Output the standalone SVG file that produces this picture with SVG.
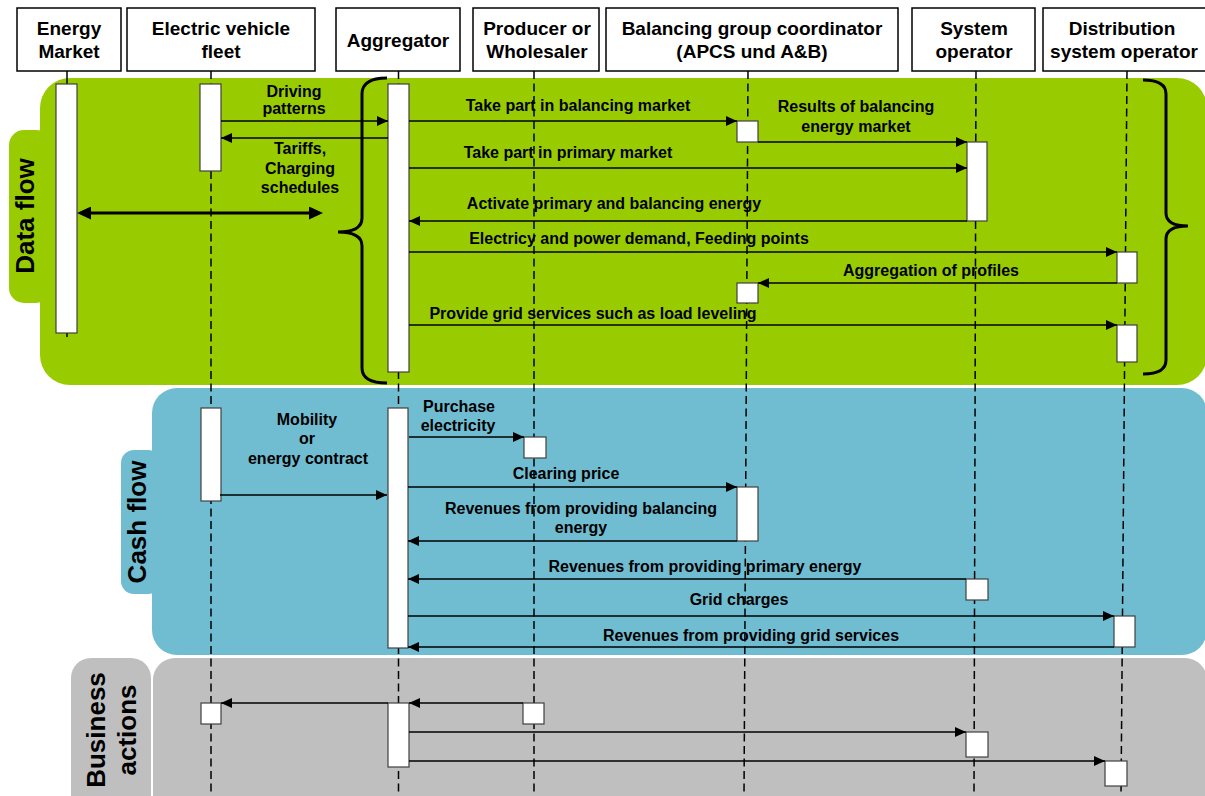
<svg xmlns="http://www.w3.org/2000/svg" width="1205" height="796" viewBox="0 0 1205 796">
<defs>
<marker id="ah" markerUnits="userSpaceOnUse" markerWidth="11" markerHeight="10" refX="11" refY="5" orient="auto"><path d="M0,0 L11,5 L0,10 Z" fill="#000"/></marker>
<marker id="ahb" markerUnits="userSpaceOnUse" markerWidth="14" markerHeight="13" refX="3" refY="6.5" orient="auto-start-reverse"><path d="M0,0 L14,6.5 L0,13 Z" fill="#000"/></marker>
</defs>
<style>
.hdr{fill:#fff;stroke:#000;stroke-width:1.5}
.ht{font-family:"Liberation Sans",Arial,sans-serif;font-weight:bold;font-size:19px;text-anchor:middle;fill:#000}
.lbl{font-family:"Liberation Sans",Arial,sans-serif;font-weight:bold;font-size:16px;text-anchor:middle;fill:#000}
.ttl{font-family:"Liberation Sans",Arial,sans-serif;font-weight:bold;font-size:26px;text-anchor:middle;fill:#000}
.life{stroke:#000;stroke-width:1.5;stroke-dasharray:8 4.5;fill:none}
.act{fill:#fff;stroke:#404040;stroke-width:1.2}
.msg{stroke:#000;stroke-width:1.5;fill:none;marker-end:url(#ah)}
.brace{stroke:#000;stroke-width:3;fill:none}
.g{fill:#99CC00}.b{fill:#70BDD2}.y{fill:#BFBFBF}
</style>
<rect width="1205" height="796" fill="#fff"/>
<g id="regions">
<rect class="g" x="40" y="78" width="1167" height="307" rx="30"/>
<rect class="g" x="9" y="130" width="42" height="173" rx="15"/>
<text class="ttl" transform="translate(34,216) rotate(-90)">Data flow</text>
<rect class="b" x="152" y="388" width="1055" height="267" rx="25"/>
<rect class="b" x="121" y="450" width="40" height="144" rx="13"/>
<text class="ttl" transform="translate(146,522) rotate(-90)">Cash flow</text>
<rect class="y" x="153" y="658" width="1054" height="160" rx="22"/>
<rect class="y" x="71" y="658" width="80" height="160" rx="20"/>
<text class="ttl" transform="translate(105,730) rotate(-90)">Business</text>
<text class="ttl" transform="translate(136,730) rotate(-90)">actions</text>
</g>
<g id="braces">
<path class="brace" d="M387,78 Q362,78 362,94 L362,218 Q362,232 338,232 Q362,232 362,246 L362,368 Q362,383 387,383"/>
<path class="brace" d="M1143,80 Q1166,80 1166,94 L1166,213 Q1166,226 1188,226 Q1166,226 1166,239 L1166,360 Q1166,374 1143,374"/>
</g>
<g id="energy-market">
<line class="life" x1="67" y1="71" x2="67" y2="337" style="stroke-dasharray:none"/>
<rect class="hdr" x="17" y="8" width="104" height="63"/>
<text class="ht" x="69" y="35">Energy</text>
<text class="ht" x="69" y="58">Market</text>
<rect class="act" x="56" y="84" width="21" height="249"/>
</g>
<g id="ev-fleet">
<line class="life" x1="211" y1="71" x2="211" y2="796"/>
<rect class="hdr" x="127" y="8" width="188" height="63"/>
<text class="ht" x="221" y="35">Electric vehicle</text>
<text class="ht" x="221" y="58">fleet</text>
<rect class="act" x="200" y="84" width="21" height="87"/>
<rect class="act" x="201" y="408" width="20" height="93"/>
<rect class="act" x="201" y="703" width="20" height="21"/>
</g>
<g id="aggregator">
<line class="life" x1="398.5" y1="71" x2="398.5" y2="796"/>
<rect class="hdr" x="336" y="8" width="124" height="63"/>
<text class="ht" x="398" y="46.5">Aggregator</text>
<rect class="act" x="388" y="84" width="21" height="288"/>
<rect class="act" x="388" y="408" width="20" height="240"/>
<rect class="act" x="388" y="703" width="21" height="64"/>
</g>
<g id="producer">
<line class="life" x1="534" y1="71" x2="534" y2="796"/>
<rect class="hdr" x="473" y="8" width="126" height="63"/>
<text class="ht" x="537" y="35">Producer or</text>
<text class="ht" x="537" y="58">Wholesaler</text>
<rect class="act" x="524" y="437" width="22" height="21"/>
<rect class="act" x="523" y="703" width="21" height="21"/>
</g>
<g id="balancing-coordinator">
<line class="life" x1="748" y1="71" x2="744" y2="796"/>
<rect class="hdr" x="606" y="8" width="292" height="63"/>
<text class="ht" x="752" y="35">Balancing group coordinator</text>
<text class="ht" x="752" y="58">(APCS und A&amp;B)</text>
<rect class="act" x="737" y="121" width="21" height="21"/>
<rect class="act" x="737" y="283" width="21" height="20"/>
<rect class="act" x="737" y="487" width="21" height="54"/>
</g>
<g id="system-operator">
<line class="life" x1="976" y1="71" x2="974" y2="796"/>
<rect class="hdr" x="912" y="8" width="123" height="63"/>
<text class="ht" x="974" y="35">System</text>
<text class="ht" x="974" y="58">operator</text>
<rect class="act" x="967" y="142" width="20" height="79"/>
<rect class="act" x="966" y="579" width="22" height="21"/>
<rect class="act" x="966" y="732" width="22" height="25"/>
</g>
<g id="dso">
<line class="life" x1="1127" y1="71" x2="1121" y2="796"/>
<rect class="hdr" x="1043" y="8" width="170" height="63"/>
<text class="ht" x="1122" y="35">Distribution</text>
<text class="ht" x="1124" y="58">system operator</text>
<rect class="act" x="1117" y="252" width="20" height="31"/>
<rect class="act" x="1117" y="325" width="20" height="37"/>
<rect class="act" x="1114" y="616" width="21" height="31"/>
<rect class="act" x="1105" y="761" width="22" height="25"/>
</g>
<g id="connectors">
<line class="msg" x1="221" y1="121" x2="388" y2="121"/>
<line class="msg" x1="388" y1="138" x2="221" y2="138"/>
<line x1="88" y1="213" x2="312" y2="213" stroke="#000" stroke-width="3" marker-start="url(#ahb)" marker-end="url(#ahb)"/>
<line class="msg" x1="409" y1="121" x2="737" y2="121"/>
<line class="msg" x1="758" y1="142" x2="967" y2="142"/>
<line class="msg" x1="409" y1="168" x2="967" y2="168"/>
<line class="msg" x1="967" y1="221" x2="409" y2="221"/>
<line class="msg" x1="409" y1="252" x2="1117" y2="252"/>
<line class="msg" x1="1117" y1="283" x2="758" y2="283"/>
<line class="msg" x1="409" y1="325" x2="1117" y2="325"/>
<line class="msg" x1="220" y1="495" x2="387" y2="495"/>
<line class="msg" x1="409" y1="437" x2="524" y2="437"/>
<line class="msg" x1="408" y1="487" x2="737" y2="487"/>
<line class="msg" x1="737" y1="541" x2="408" y2="541"/>
<line class="msg" x1="966" y1="579" x2="408" y2="579"/>
<line class="msg" x1="408" y1="616" x2="1114" y2="616"/>
<line class="msg" x1="1114" y1="647" x2="408" y2="647"/>
<line class="msg" x1="523" y1="703" x2="409" y2="703"/>
<line class="msg" x1="388" y1="703" x2="221" y2="703"/>
<line class="msg" x1="409" y1="732" x2="966" y2="732"/>
<line class="msg" x1="409" y1="761" x2="1105" y2="761"/>
</g>
<g id="labels">
<text class="lbl" x="294" y="97">Driving</text>
<text class="lbl" x="294" y="114">patterns</text>
<text class="lbl" x="300" y="154">Tariffs,</text>
<text class="lbl" x="300" y="174">Charging</text>
<text class="lbl" x="300" y="193">schedules</text>
<text class="lbl" x="578" y="111">Take part in balancing market</text>
<text class="lbl" x="856" y="112">Results of balancing</text>
<text class="lbl" x="856" y="132">energy market</text>
<text class="lbl" x="568" y="158">Take part in primary market</text>
<text class="lbl" x="614" y="208.5">Activate primary and balancing energy</text>
<text class="lbl" x="639" y="243.5">Electricy and power demand, Feeding points</text>
<text class="lbl" x="931" y="275.5">Aggregation of profiles</text>
<text class="lbl" x="593" y="318.5">Provide grid services such as load leveling</text>
<text class="lbl" x="307" y="425">Mobility</text>
<text class="lbl" x="307" y="444">or</text>
<text class="lbl" x="308" y="463.5">energy contract</text>
<text class="lbl" x="459" y="412">Purchase</text>
<text class="lbl" x="458" y="431">electricity</text>
<text class="lbl" x="566" y="478.5">Clearing price</text>
<text class="lbl" x="581" y="514">Revenues from providing balancing</text>
<text class="lbl" x="581" y="533">energy</text>
<text class="lbl" x="705" y="571.5">Revenues from providing primary energy</text>
<text class="lbl" x="739" y="604.5">Grid charges</text>
<text class="lbl" x="751" y="640.5">Revenues from providing grid services</text>
</g>
</svg>
